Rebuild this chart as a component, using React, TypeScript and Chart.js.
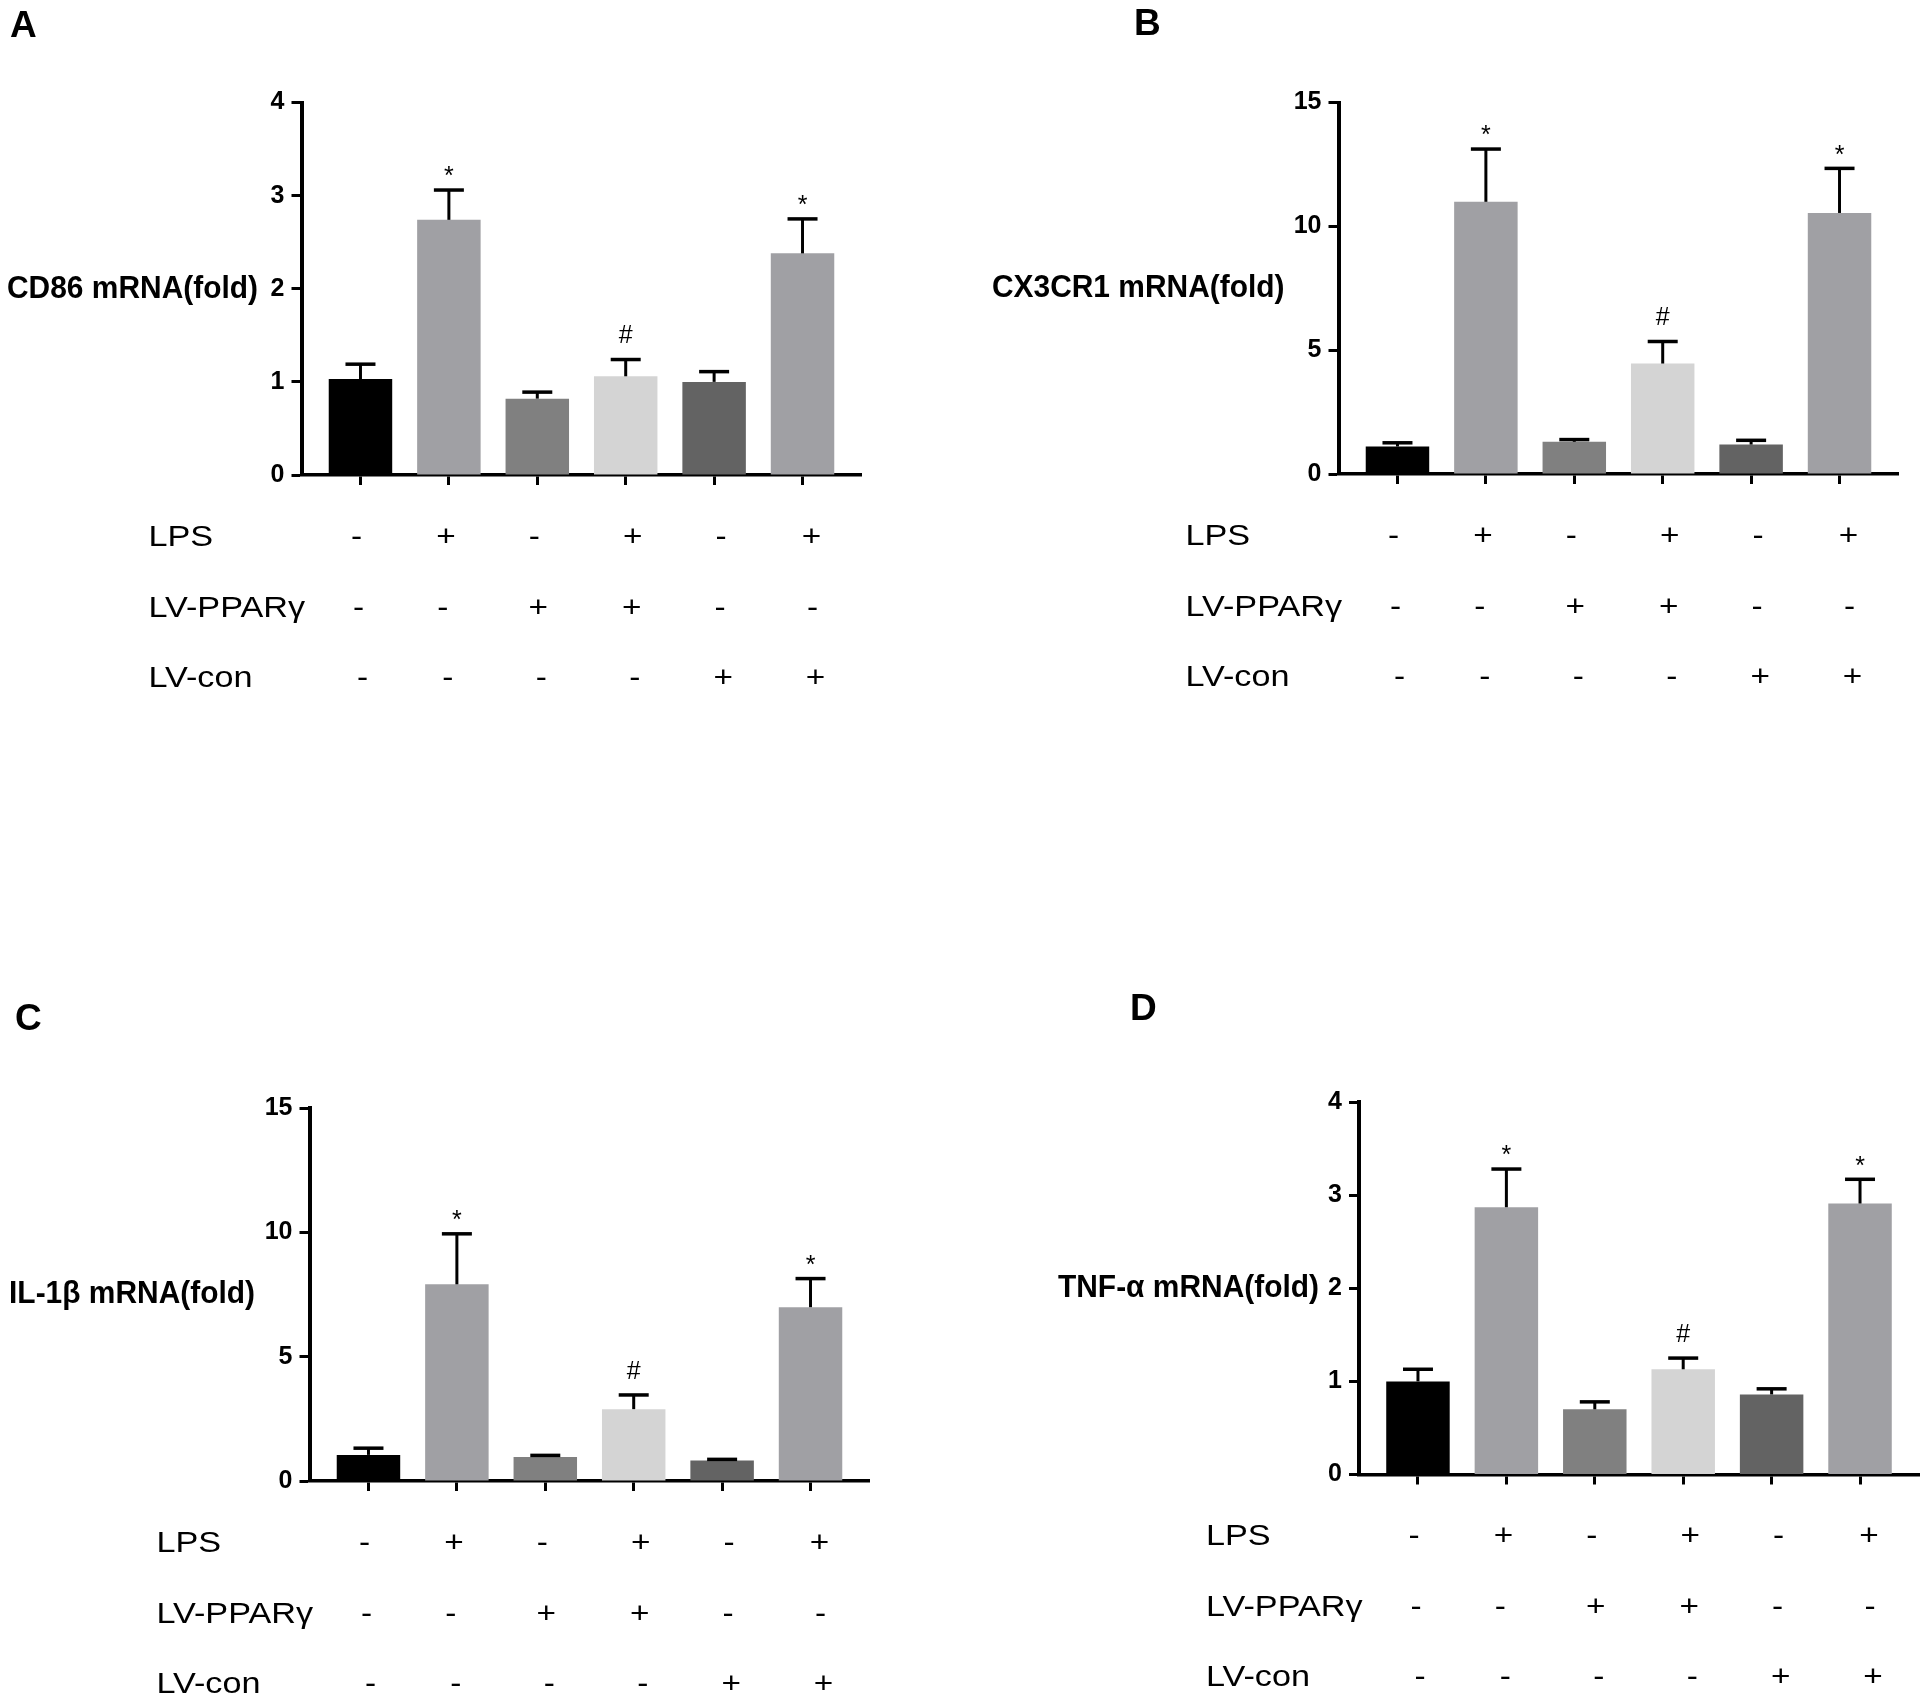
import { useEffect, useRef } from "react"
import { Chart, registerables } from "chart.js"

Chart.register(...registerables)

// treatment table under each graph
const ROW_LABELS = ["LPS", "LV-PPARγ", "LV-con"]
const LPS = ["-", "+", "-", "+", "-", "+"]
const LV_PPARG = ["-", "-", "+", "+", "-", "-"]
const LV_CON = ["-", "-", "-", "-", "+", "+"]
const GROUPS = [0, 1, 2, 3, 4, 5]
const MARKS = ["", "*", "", "#", "", "*"]

// mean and SEM
const CD86_MEAN = [1.03, 2.74, 0.82, 1.06, 1.0, 2.38]
const CD86_ERR = [0.16, 0.32, 0.07, 0.18, 0.11, 0.37]
const CX3CR1_MEAN = [1.11, 10.99, 1.3, 4.46, 1.19, 10.54]
const CX3CR1_ERR = [0.15, 2.13, 0.09, 0.89, 0.17, 1.8]
const IL1B_MEAN = [1.05, 7.91, 0.97, 2.89, 0.82, 6.99]
const IL1B_ERR = [0.27, 2.03, 0.06, 0.57, 0.05, 1.15]
const TNFA_MEAN = [1.0, 2.87, 0.7, 1.13, 0.86, 2.91]
const TNFA_ERR = [0.13, 0.41, 0.08, 0.12, 0.06, 0.26]

const TICKS_4 = [0, 1, 2, 3, 4]
const TICKS_15 = [0, 5, 10, 15]

const BAR_COLORS = ["#000000", "#a0a0a4", "#808080", "#d4d4d4", "#636363", "#a0a0a4"]

const FONT = '"Liberation Sans", Arial, sans-serif'
const PLOT_W = 560
const ROW_Y = [62.5, 133.5, 203.5]
const SIGN_SHIFT = [
  [-4, -3, -3, 7, 7, 9],
  [-2, -6, 1, 6, 6, 10],
  [2, -1, 4, 9, 9, 13],
]

type PanelCfg = {
  letter: string
  title: string
  mean: number[]
  err: number[]
  ticks: number[]
  box: [number, number, number, number]
  axisX: number
  topY: number
  zeroY: number
  titleGap: number
  letterPos: [number, number]
}

const PANELS: PanelCfg[] = [
  {
    letter: "A", title: "CD86 mRNA(fold)", mean: CD86_MEAN, err: CD86_ERR, ticks: TICKS_4,
    box: [0, 0, 962, 850], axisX: 301.5, topY: 102.5, zeroY: 475, titleGap: 43.5, letterPos: [10, 27],
  },
  {
    letter: "B", title: "CX3CR1 mRNA(fold)", mean: CX3CR1_MEAN, err: CX3CR1_ERR, ticks: TICKS_15,
    box: [962, 0, 963, 850], axisX: 1338.5, topY: 102.5, zeroY: 474, titleGap: 54, letterPos: [1134, 25],
  },
  {
    letter: "C", title: "IL-1β mRNA(fold)", mean: IL1B_MEAN, err: IL1B_ERR, ticks: TICKS_15,
    box: [0, 850, 962, 851], axisX: 309.5, topY: 1108, zeroY: 1481, titleGap: 54.5, letterPos: [15, 1020],
  },
  {
    letter: "D", title: "TNF-α mRNA(fold)", mean: TNFA_MEAN, err: TNFA_ERR, ticks: TICKS_4,
    box: [962, 850, 963, 851], axisX: 1359, topY: 1102, zeroY: 1474.5, titleGap: 40, letterPos: [1130, 1010],
  },
]

function drawText(
  ctx: CanvasRenderingContext2D,
  text: string,
  x: number,
  y: number,
  font: string,
  align: CanvasTextAlign,
  sx = 1
) {
  ctx.save()
  ctx.font = font
  ctx.textAlign = align
  ctx.textBaseline = "middle"
  ctx.fillStyle = "#000"
  ctx.translate(x, y)
  ctx.scale(sx, 1)
  ctx.fillText(text, 0, 0)
  ctx.restore()
}

function Panel({ cfg }: { cfg: PanelCfg }) {
  const canvasRef = useRef<HTMLCanvasElement>(null)
  const [bx, by, bw, bh] = cfg.box

  useEffect(() => {
    if (!canvasRef.current) return
    const ctx = canvasRef.current.getContext("2d")
    if (!ctx) return

    const padLeft = cfg.axisX - bx
    const padTop = cfg.topY - by
    const padRight = bw - padLeft - PLOT_W
    const padBottom = bh - (cfg.zeroY - by)
    const rows = [LPS, LV_PPARG, LV_CON]

    const decor = {
      id: "decor",
      afterDatasetsDraw(chart: Chart) {
        const c = chart.ctx
        const xs = chart.scales.x
        const ys = chart.scales.y
        c.save()
        c.strokeStyle = "#000"
        c.lineCap = "butt"
        GROUPS.forEach((g, i) => {
          const x = xs.getPixelForValue(g)
          const y0 = ys.getPixelForValue(cfg.mean[i])
          const y1 = ys.getPixelForValue(cfg.mean[i] + cfg.err[i])
          c.lineWidth = 3
          c.beginPath()
          c.moveTo(x, y0)
          c.lineTo(x, y1)
          c.stroke()
          c.lineWidth = 3.5
          c.beginPath()
          c.moveTo(x - 15, y1)
          c.lineTo(x + 15, y1)
          c.stroke()
          const m = MARKS[i]
          if (m === "*") drawText(c, m, x, y1 - 12.6, `25px ${FONT}`, "center")
          if (m === "#") drawText(c, m, x, y1 - 23, `25px ${FONT}`, "center")
        })
        c.restore()
      },
      afterDraw(chart: Chart) {
        const c = chart.ctx
        const xs = chart.scales.x
        const ys = chart.scales.y
        const left = chart.chartArea.left
        const bottom = chart.chartArea.bottom
        ys.ticks.forEach((t) => {
          drawText(c, String(t.value), left - 17, ys.getPixelForValue(t.value), `bold 25px ${FONT}`, "right")
        })
        const mid = (chart.chartArea.top + bottom) / 2
        drawText(c, cfg.title, left - cfg.titleGap, mid, `bold 32px ${FONT}`, "right", 0.935)
        drawText(c, cfg.letter, cfg.letterPos[0] - bx, cfg.letterPos[1] - by, `bold 37px ${FONT}`, "left")
        rows.forEach((row, r) => {
          const y = bottom + ROW_Y[r]
          drawText(c, ROW_LABELS[r], left - 153, y, `29px ${FONT}`, "left", 1.18)
          row.forEach((s, i) => {
            drawText(c, s, xs.getPixelForValue(GROUPS[i]) + SIGN_SHIFT[r][i], y, `29px ${FONT}`, "center", 1.15)
          })
        })
      },
    }

    const chart = new Chart(ctx, {
      type: "bar",
      data: {
        datasets: [
          {
            data: GROUPS.map((g, i) => ({ x: g, y: cfg.mean[i] })),
            backgroundColor: BAR_COLORS,
            borderWidth: 0,
            barPercentage: 0.718,
            categoryPercentage: 1,
          },
        ],
      },
      options: {
        responsive: false,
        animation: false,
        devicePixelRatio: 1,
        events: [],
        layout: { padding: { left: padLeft, top: padTop, right: padRight, bottom: padBottom } },
        plugins: { legend: { display: false }, tooltip: { enabled: false } },
        scales: {
          x: {
            type: "linear",
            min: -0.667,
            max: 5.667,
            offset: false,
            z: 1,
            afterBuildTicks: (scale: any) => {
              scale.ticks = GROUPS.map((g) => ({ value: g }))
            },
            afterFit: (scale: any) => {
              scale.height = 0
            },
            ticks: { display: false },
            grid: {
              display: true,
              offset: false,
              drawOnChartArea: false,
              drawTicks: true,
              tickLength: 10,
              tickWidth: 3,
              tickColor: "#000",
            },
            border: { display: true, width: 3.5, color: "#000" },
          },
          y: {
            type: "linear",
            min: 0,
            max: cfg.ticks[cfg.ticks.length - 1],
            afterBuildTicks: (scale: any) => {
              scale.ticks = cfg.ticks.map((v) => ({ value: v }))
            },
            afterFit: (scale: any) => {
              scale.width = 0
            },
            ticks: { display: false },
            grid: {
              display: true,
              drawOnChartArea: false,
              drawTicks: true,
              tickLength: 10,
              tickWidth: 3,
              tickColor: "#000",
            },
            border: { display: true, width: 4, color: "#000" },
          },
        },
      },
      plugins: [decor],
    })

    return () => {
      chart.destroy()
    }
  }, [cfg])

  return (
    <canvas
      ref={canvasRef}
      width={bw}
      height={bh}
      style={{ position: "absolute", left: bx, top: by, width: bw, height: bh }}
    />
  )
}

export default function App() {
  return (
    <div style={{ position: "absolute", left: 0, top: 0, width: 1925, height: 1701, background: "#fff" }}>
      {PANELS.map((p) => (
        <Panel key={p.letter} cfg={p} />
      ))}
    </div>
  )
}
